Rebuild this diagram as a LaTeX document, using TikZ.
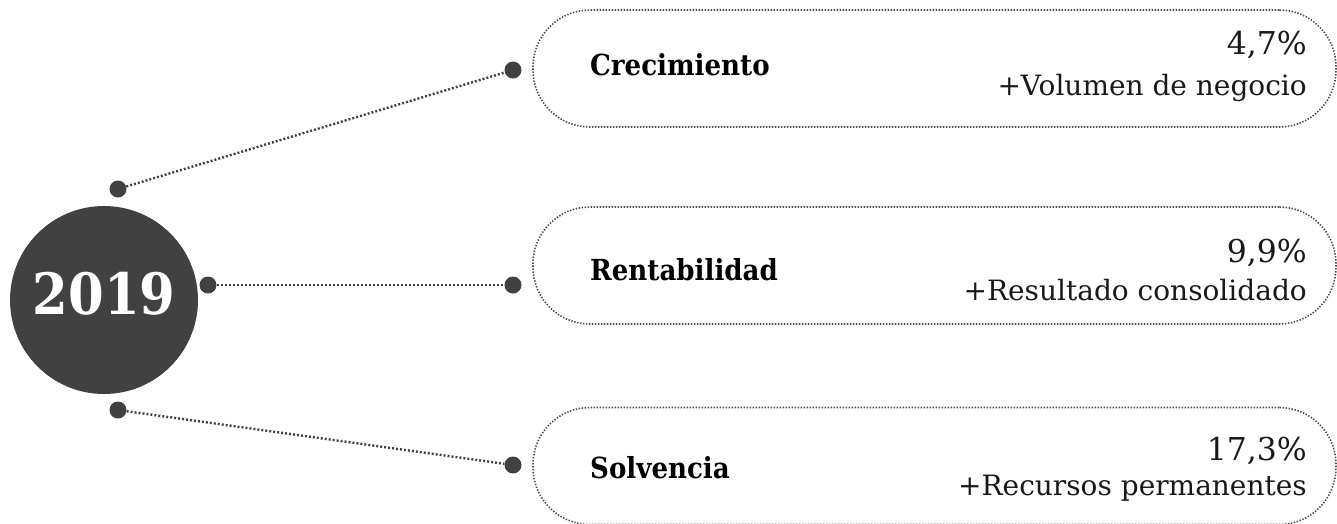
\documentclass[tikz,border=0pt]{standalone}
\usepackage{fontspec}
\setmainfont{DejaVu Serif}
\newfontfamily\condbold[BoldFont={DejaVu Serif Condensed Bold}]{DejaVu Serif Condensed}
\definecolor{dark}{HTML}{414141}
\definecolor{dotline}{HTML}{4a4a4a}
\begin{document}
\begin{tikzpicture}[x=1pt,y=-1pt,
  bigdot/.style={circle,fill=dark,inner sep=0pt,minimum size=17pt},
  conn/.style={draw=dark,line width=2.4pt,dash pattern=on 2pt off 2pt},
  pill/.style={draw=dotline,line width=1.6pt,dash pattern=on 1.4pt off 1.6pt,rounded corners=57pt,minimum width=803pt,minimum height=117pt,inner sep=0pt},
  lbl/.style={anchor=base west,inner sep=0pt,font=\condbold\bfseries\fontsize{29}{32}\selectfont,text=black},
  num/.style={anchor=base east,inner sep=0pt,font=\fontsize{31.5}{34}\selectfont,text=black!90},
  sub/.style={anchor=base east,inner sep=0pt,font=\fontsize{28}{32}\selectfont,text=black!90}]
\useasboundingbox (0,0) rectangle (1337,523);
% central circle
\node[circle,fill=dark,minimum size=188pt,inner sep=0pt] (c) at (104,300) {};
\node[font=\condbold\bfseries\fontsize{57}{60}\selectfont,text=white,inner sep=0pt] (yr) at (104,294) {2019};
% small dots
\node[bigdot] (s1) at (118,189) {};
\node[bigdot] (s2) at (208,285) {};
\node[bigdot] (s3) at (118,410) {};
\node[bigdot] (e1) at (513,70) {};
\node[bigdot] (e2) at (513,285) {};
\node[bigdot] (e3) at (513,465) {};
\draw[conn] (s1) -- (e1);
\draw[conn] (s2) -- (e2);
\draw[conn] (s3) -- (e3);
% pills
\node[pill] (b1) at (934.5,68.5) {};
\node[pill] (b2) at (934.5,265.5) {};
\node[pill] (b3) at (934.5,466) {};
% labels
\node[lbl] (l1) at (590,75) {Crecimiento};
\node[lbl] (l2) at (590,280) {Rentabilidad};
\node[lbl] (l3) at (590,478) {Solvencia};
\node[num] (n1) at (1307,54) {4,7\%};
\node[num] (n2) at (1307,262) {9,9\%};
\node[num] (n3) at (1307,460) {17,3\%};
\node[sub] (t1) at (1307,95) {+Volumen de negocio};
\node[sub] (t2) at (1307,300) {+Resultado consolidado};
\node[sub] (t3) at (1307,495) {+Recursos permanentes};
\end{tikzpicture}
\end{document}
